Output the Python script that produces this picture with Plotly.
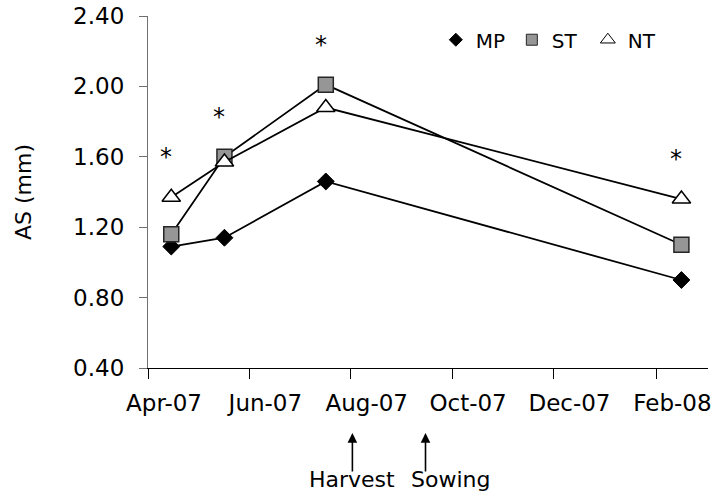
import plotly.graph_objects as go

# ---- data ----
dates = ['2007-04-15', '2007-05-17', '2007-07-17', '2008-02-16']
mp = [1.09, 1.14, 1.46, 0.90]
st = [1.16, 1.60, 2.01, 1.10]
nt = [1.37, 1.57, 1.88, 1.36]
sig_dates = ['2007-04-15', '2007-05-17', '2007-07-17', '2008-02-16']
event_dates = ['2007-08-02', '2007-09-15']
event_labels = ['Harvest', 'Sowing']
y_ticks = [0.4, 0.8, 1.2, 1.6, 2.0, 2.4]

FONT = 'DejaVu Sans'

fig = go.Figure()

series = [
    ('MP', mp, dict(symbol='diamond', size=13, color='black', line=dict(color='black', width=1))),
    ('ST', st, dict(symbol='square', size=15, color='#969696', line=dict(color='#262626', width=1.5))),
    ('NT', nt, dict(symbol='triangle-up', size=16, color='white', line=dict(color='black', width=1.5))),
]
legend_markers = {
    'MP': dict(symbol='diamond', size=10, color='black', line=dict(color='black', width=1)),
    'ST': dict(symbol='square', size=11, color='#969696', line=dict(color='#262626', width=1)),
    'NT': dict(symbol='triangle-up', size=13, color='white', line=dict(color='black', width=1)),
}

for name, vals, mk in series:
    fig.add_trace(go.Scatter(x=dates, y=vals, mode='lines+markers', name=name,
                             line=dict(color='black', width=1.8), marker=mk,
                             showlegend=False))
for name, _, _ in series:
    fig.add_trace(go.Scatter(x=[None], y=[None], mode='markers', name=name,
                             marker=legend_markers[name], showlegend=True))

# significance asterisks
for d, a, b, c in zip(sig_dates, mp, st, nt):
    fig.add_annotation(x=d, y=max(a, b, c), xref='x', yref='y', text='*',
                       showarrow=False, yshift=40, xshift=-5,
                       font=dict(family=FONT, size=24, color='black'))

# harvest / sowing arrows
for d in event_dates:
    fig.add_annotation(x=d, y=-0.185, xref='x', yref='paper', text='',
                       showarrow=True, ax=0, ay=40, arrowhead=2, arrowsize=1.2,
                       arrowwidth=1.6, arrowcolor='black')
fig.add_annotation(x=event_dates[0], y=-0.318, xref='x', yref='paper', text=event_labels[0],
                   showarrow=False, xanchor='center', yanchor='middle',
                   font=dict(family=FONT, size=22, color='black'))
fig.add_annotation(x=event_dates[1], y=-0.318, xref='x', yref='paper', text=event_labels[1],
                   showarrow=False, xanchor='left', yanchor='middle', xshift=-17,
                   font=dict(family=FONT, size=22, color='black'))

fig.update_layout(
    width=721, height=495,
    margin=dict(l=148, r=13, t=16, b=127, autoexpand=False),
    paper_bgcolor='white', plot_bgcolor='white',
    font=dict(family=FONT, size=22, color='black'),
    legend=dict(orientation='h', x=0.514, y=0.988, xanchor='left', yanchor='top',
                font=dict(family=FONT, size=20, color='black'),
                bgcolor='rgba(0,0,0,0)', entrywidth=31, itemwidth=30),
    xaxis=dict(type='date', range=['2007-04-01', '2008-03-03'], automargin=False,
               tick0='2007-04-01', dtick='M2', tickformat='%b-%y',
               ticks='outside', ticklen=10, tickcolor='black', tickwidth=1,
               showline=True, linecolor='black', linewidth=1.2,
               showgrid=False, zeroline=False, ticklabelshift=16, ticklabelstandoff=4,
               ticklabeloverflow='allow',
               tickfont=dict(family=FONT, size=23)),
    yaxis=dict(range=[0.4, 2.4], tickvals=y_ticks, tickformat='.2f', automargin=False,
               ticks='outside', ticklen=8, tickcolor='#707070', tickwidth=1,
               showline=True, linecolor='#707070', linewidth=1.2,
               showgrid=False, zeroline=False, ticklabelstandoff=10,
               ticklabeloverflow='allow',
               tickfont=dict(family=FONT, size=23),
               title=dict(text='AS (mm)', standoff=35, font=dict(family=FONT, size=22))),
)

# remove the browser's default 8px page margin so the figure fills the window
fig.write_html('out.html', config={'displayModeBar': False},
               post_script="document.body.style.margin='0';")
